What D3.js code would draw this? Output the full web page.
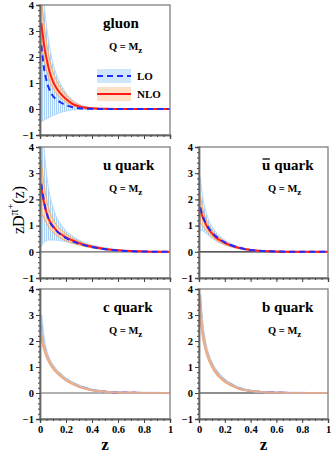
<!DOCTYPE html>
<html>
<head>
<meta charset="utf-8">
<script src="https://cdn.jsdelivr.net/npm/d3@7"></script>
<style>
  body { margin: 0; background: #fff; }
  text { font-family: "Liberation Serif", "Times New Roman", serif; }
</style>
</head>
<body>
<div id="chart"></div>
<script>
// z grid shared by all curves
const zGrid = [0.01, 0.02, 0.03, 0.05, 0.07, 0.1, 0.13, 0.16, 0.2, 0.25, 0.3, 0.35, 0.4, 0.5, 0.6, 0.7, 0.8, 0.9, 1.0];

// gluon
const gluonNLO   = [3.3, 2.9, 2.5, 1.95, 1.5, 1.05, 0.78, 0.58, 0.38, 0.2, 0.1, 0.05, 0.025, 0.008, 0.002, 0, 0, 0, 0];
const gluonNLOHi = [4.4, 3.85, 3.3, 2.55, 2.0, 1.42, 1.06, 0.8, 0.54, 0.3, 0.16, 0.085, 0.045, 0.014, 0.004, 0.001, 0, 0, 0];
const gluonNLOLo = [2.55, 2.25, 1.95, 1.5, 1.15, 0.8, 0.58, 0.42, 0.27, 0.13, 0.06, 0.028, 0.013, 0.004, 0.001, 0, 0, 0, 0];
const gluonLO    = [2.45, 2.0, 1.6, 1.1, 0.78, 0.5, 0.35, 0.25, 0.15, 0.07, 0.03, 0.012, 0.005, 0, 0, 0, 0, 0, 0];
const gluonLOHi  = [5, 4.6, 4.1, 3.2, 2.5, 1.75, 1.28, 0.95, 0.62, 0.35, 0.18, 0.09, 0.045, 0.01, 0.002, 0, 0, 0, 0];
const gluonLOLo  = [-0.5, -0.46, -0.43, -0.38, -0.33, -0.25, -0.19, -0.13, -0.08, -0.035, -0.012, -0.003, 0, 0, 0, 0, 0, 0, 0];

// u quark
const uNLO   = [2.45, 2.15, 1.9, 1.5, 1.22, 0.98, 0.8, 0.68, 0.55, 0.43, 0.33, 0.25, 0.19, 0.11, 0.06, 0.03, 0.012, 0.004, 0];
const uNLOHi = [3.5, 3.0, 2.6, 2.0, 1.6, 1.25, 1.0, 0.85, 0.68, 0.52, 0.4, 0.3, 0.23, 0.13, 0.07, 0.035, 0.015, 0.005, 0];
const uNLOLo = [1.4, 1.4, 1.3, 1.1, 0.92, 0.75, 0.62, 0.52, 0.42, 0.33, 0.26, 0.2, 0.15, 0.09, 0.05, 0.02, 0.01, 0.003, 0];
const uLO    = [2.6, 2.25, 1.95, 1.5, 1.2, 0.95, 0.78, 0.65, 0.52, 0.4, 0.31, 0.24, 0.18, 0.1, 0.05, 0.025, 0.01, 0.004, 0];
const uLOHi  = [5, 4.6, 4.0, 3.0, 2.3, 1.7, 1.3, 1.05, 0.8, 0.6, 0.45, 0.34, 0.26, 0.15, 0.08, 0.04, 0.018, 0.006, 0];
const uLOLo  = [0.2, 0.3, 0.37, 0.42, 0.45, 0.45, 0.44, 0.42, 0.38, 0.32, 0.26, 0.2, 0.15, 0.08, 0.04, 0.02, 0.008, 0.002, 0];

// u-bar quark
const ubNLO   = [1.65, 1.45, 1.3, 1.08, 0.9, 0.7, 0.55, 0.45, 0.34, 0.24, 0.16, 0.11, 0.07, 0.03, 0.012, 0.005, 0.002, 0, 0];
const ubNLOHi = [2.15, 1.85, 1.62, 1.3, 1.07, 0.83, 0.66, 0.53, 0.4, 0.28, 0.19, 0.13, 0.08, 0.035, 0.015, 0.006, 0.002, 0, 0];
const ubNLOLo = [1.1, 1.05, 0.98, 0.85, 0.73, 0.58, 0.46, 0.37, 0.28, 0.2, 0.13, 0.09, 0.06, 0.025, 0.01, 0.004, 0.001, 0, 0];
const ubLO    = [1.7, 1.5, 1.35, 1.12, 0.95, 0.74, 0.6, 0.48, 0.36, 0.25, 0.17, 0.11, 0.07, 0.03, 0.012, 0.005, 0.002, 0, 0];
const ubLOHi  = [2.85, 2.4, 2.05, 1.6, 1.28, 0.97, 0.76, 0.6, 0.45, 0.31, 0.21, 0.14, 0.09, 0.04, 0.016, 0.006, 0.002, 0, 0];
const ubLOLo  = [0.8, 0.82, 0.8, 0.72, 0.64, 0.52, 0.42, 0.34, 0.26, 0.18, 0.12, 0.08, 0.05, 0.02, 0.008, 0.003, 0.001, 0, 0];

// c quark
const cNLO   = [2.2, 1.95, 1.75, 1.45, 1.22, 0.97, 0.8, 0.66, 0.5, 0.36, 0.25, 0.17, 0.11, 0.05, 0.02, 0.008, 0.003, 0.001, 0];
const cNLOHi = [2.3, 2.05, 1.83, 1.51, 1.27, 1.01, 0.83, 0.69, 0.52, 0.38, 0.26, 0.18, 0.12, 0.055, 0.022, 0.009, 0.003, 0.001, 0];
const cNLOLo = [2.1, 1.86, 1.67, 1.39, 1.17, 0.93, 0.77, 0.63, 0.48, 0.34, 0.24, 0.16, 0.1, 0.045, 0.018, 0.007, 0.002, 0, 0];
const cLO    = [2.6, 2.2, 1.9, 1.5, 1.25, 1.0, 0.82, 0.68, 0.52, 0.38, 0.27, 0.19, 0.12, 0.05, 0.02, 0.008, 0.003, 0.001, 0];
const cLOHi  = [3.0, 2.45, 2.05, 1.58, 1.31, 1.05, 0.86, 0.72, 0.55, 0.4, 0.29, 0.2, 0.13, 0.055, 0.022, 0.009, 0.003, 0.001, 0];
const cLOLo  = [2.3, 2.0, 1.78, 1.43, 1.19, 0.95, 0.78, 0.64, 0.49, 0.36, 0.25, 0.18, 0.11, 0.045, 0.018, 0.007, 0.002, 0, 0];

// b quark
const bNLO   = [3.2, 2.6, 2.25, 1.75, 1.4, 1.05, 0.8, 0.62, 0.45, 0.3, 0.19, 0.12, 0.075, 0.03, 0.01, 0.004, 0.001, 0, 0];
const bNLOHi = [3.7, 2.9, 2.4, 1.83, 1.46, 1.1, 0.84, 0.65, 0.47, 0.32, 0.2, 0.13, 0.08, 0.033, 0.012, 0.005, 0.001, 0, 0];
const bNLOLo = [3.0, 2.45, 2.12, 1.67, 1.34, 1.0, 0.76, 0.59, 0.43, 0.28, 0.18, 0.11, 0.07, 0.027, 0.009, 0.003, 0.001, 0, 0];
const bLO    = [3.5, 2.8, 2.35, 1.8, 1.45, 1.1, 0.85, 0.67, 0.49, 0.33, 0.21, 0.13, 0.08, 0.03, 0.012, 0.004, 0.001, 0, 0];
const bLOHi  = [3.8, 3.0, 2.5, 1.9, 1.52, 1.15, 0.89, 0.7, 0.51, 0.35, 0.22, 0.14, 0.085, 0.033, 0.013, 0.005, 0.001, 0, 0];
const bLOLo  = [3.2, 2.6, 2.2, 1.7, 1.38, 1.05, 0.81, 0.64, 0.46, 0.31, 0.2, 0.12, 0.075, 0.027, 0.01, 0.003, 0.001, 0, 0];

const yTicks = [-1, 0, 1, 2, 3, 4];
const xTicks = [0, 0.2, 0.4, 0.6, 0.8, 1];
const xTickLabels = ["0", "0.2", "0.4", "0.6", "0.8", "1"];

const width = 332, height = 454;
const cols = [{ x0: 40, x1: 170 }, { x0: 199, x1: 328 }];
const rows = [{ top: 5, bottom: 135 }, { top: 147, bottom: 278 }, { top: 289, bottom: 419 }];
const serif = "'Liberation Serif', 'Times New Roman', serif";

// narrow bands (c, b) sit on top of their curves in the original
const panels = [
    { id: "g", name: "gluon", bar: false, col: 0, row: 0, legend: true, xLabels: false, bandsOnTop: false,
      nlo: gluonNLO, nloHi: gluonNLOHi, nloLo: gluonNLOLo, lo: gluonLO, loHi: gluonLOHi, loLo: gluonLOLo },
    { id: "u", name: "u quark", bar: false, col: 0, row: 1, legend: false, xLabels: false, bandsOnTop: false,
      nlo: uNLO, nloHi: uNLOHi, nloLo: uNLOLo, lo: uLO, loHi: uLOHi, loLo: uLOLo },
    { id: "ub", name: "u quark", bar: true, col: 1, row: 1, legend: false, xLabels: false, bandsOnTop: false,
      nlo: ubNLO, nloHi: ubNLOHi, nloLo: ubNLOLo, lo: ubLO, loHi: ubLOHi, loLo: ubLOLo },
    { id: "c", name: "c quark", bar: false, col: 0, row: 2, legend: false, xLabels: true, bandsOnTop: true,
      nlo: cNLO, nloHi: cNLOHi, nloLo: cNLOLo, lo: cLO, loHi: cLOHi, loLo: cLOLo },
    { id: "b", name: "b quark", bar: false, col: 1, row: 2, legend: false, xLabels: true, bandsOnTop: true,
      nlo: bNLO, nloHi: bNLOHi, nloLo: bNLOLo, lo: bLO, loHi: bLOHi, loLo: bLOLo }
];

const svg = d3.select("#chart")
    .append("svg")
    .attr("width", width)
    .attr("height", height);

const defs = svg.append("defs");

// vertical hatch fills, like the original
const blueHatch = defs.append("pattern")
    .attr("id", "blueHatch")
    .attr("patternUnits", "userSpaceOnUse")
    .attr("width", 2).attr("height", 4);
blueHatch.append("rect").attr("width", 2).attr("height", 4).attr("fill", "#eef6fe");
blueHatch.append("rect").attr("width", 1).attr("height", 4).attr("fill", "#a8cff4");

const orangeHatch = defs.append("pattern")
    .attr("id", "orangeHatch")
    .attr("patternUnits", "userSpaceOnUse")
    .attr("width", 2).attr("height", 4);
orangeHatch.append("rect").attr("width", 2).attr("height", 4).attr("fill", "#fde6d2");
orangeHatch.append("rect").attr("width", 1).attr("height", 4).attr("fill", "#f9cba2");

panels.forEach(p => {
    const c = cols[p.col], r = rows[p.row];
    const x = d3.scaleLinear().domain([0, 1]).range([c.x0, c.x1]);
    const y = d3.scaleLinear().domain([-1, 4]).range([r.bottom, r.top]);
    const g = svg.append("g");

    defs.append("clipPath").attr("id", "clip-" + p.id)
        .append("rect")
        .attr("x", c.x0).attr("y", r.top)
        .attr("width", c.x1 - c.x0).attr("height", r.bottom - r.top);

    const plot = g.append("g").attr("clip-path", `url(#clip-${p.id})`);

    const band = (hi, lo) => d3.area()
        .x((d, i) => x(zGrid[i]))
        .y0((d, i) => y(lo[i]))
        .y1((d, i) => y(hi[i]))
        .curve(d3.curveMonotoneX)(zGrid);
    const line = vals => d3.line()
        .x((d, i) => x(zGrid[i]))
        .y((d, i) => y(vals[i]))
        .curve(d3.curveMonotoneX)(zGrid);

    // zero line
    plot.append("line")
        .attr("x1", x(0)).attr("x2", x(1))
        .attr("y1", y(0)).attr("y2", y(0))
        .attr("stroke", p.col === 1 ? "#222" : "#666").attr("stroke-width", 1.2);

    const drawLines = () => {
        plot.append("path").attr("d", line(p.nlo))
            .attr("fill", "none").attr("stroke", "#ff1a1a").attr("stroke-width", 2);
        plot.append("path").attr("d", line(p.lo))
            .attr("fill", "none").attr("stroke", "#1e2cff").attr("stroke-width", 2)
            .attr("stroke-dasharray", "6,4");
    };
    const drawBands = () => {
        plot.append("path").attr("d", band(p.loHi, p.loLo))
            .attr("fill", p.bandsOnTop ? "#b6d6f5" : "url(#blueHatch)")
            .attr("fill-opacity", p.bandsOnTop ? 0.85 : 1)
            .attr("stroke", p.bandsOnTop ? "#a9cdf2" : "#b9dafa")
            .attr("stroke-width", p.bandsOnTop ? 2.2 : 1)
            .attr("stroke-opacity", p.bandsOnTop ? 0.8 : 1);
        plot.append("path").attr("d", band(p.nloHi, p.nloLo))
            .attr("fill", p.bandsOnTop ? "#f8b888" : "url(#orangeHatch)")
            .attr("fill-opacity", p.bandsOnTop ? 0.75 : 0.9)
            .attr("stroke", p.bandsOnTop ? "#f6ab74" : "#f7a968")
            .attr("stroke-width", p.bandsOnTop ? 1.8 : 1)
            .attr("stroke-opacity", p.bandsOnTop ? 0.7 : 1);
    };
    if (p.bandsOnTop) { drawLines(); drawBands(); }
    else { drawBands(); drawLines(); }

    // frame
    g.append("rect")
        .attr("x", c.x0).attr("y", r.top)
        .attr("width", c.x1 - c.x0).attr("height", r.bottom - r.top)
        .attr("fill", "none").attr("stroke", "#888").attr("stroke-width", 1.4);

    // y axis
    const yAxis = d3.axisLeft(y).tickValues(yTicks).tickSize(4).tickPadding(2).tickFormat(d3.format("d"));
    g.append("g").attr("transform", `translate(${c.x0},0)`).call(yAxis);
    const yMinor = d3.axisLeft(y).tickValues(d3.range(-1, 4.01, 0.2)).tickSize(2).tickFormat("");
    g.append("g").attr("transform", `translate(${c.x0},0)`).call(yMinor);

    // x axis
    const xAxis = d3.axisBottom(x).tickValues(xTicks).tickSize(4).tickPadding(3)
        .tickFormat((d, i) => p.xLabels ? xTickLabels[i] : "");
    g.append("g").attr("transform", `translate(0,${r.bottom})`).call(xAxis);
    const xMinor = d3.axisBottom(x).tickValues(d3.range(0, 1.001, 0.05)).tickSize(2).tickFormat("");
    g.append("g").attr("transform", `translate(0,${r.bottom})`).call(xMinor);

    g.selectAll(".domain").attr("stroke", "#666").attr("stroke-width", 1.4);
    g.selectAll(".tick line").attr("stroke", "#444");
    g.selectAll(".tick text")
        .attr("font-family", serif)
        .attr("font-weight", "bold")
        .attr("font-size", 10.5)
        .style("font-family", serif)
        .attr("fill", "#000");

    // titles
    const tx = c.x0 + 63;
    if (p.bar) {
        const u = g.append("text").attr("x", tx).attr("y", r.top + 23)
            .style("font-size", "15px").style("font-weight", "bold").text("u");
        const bb = u.node().getBBox();
        g.append("line")
            .attr("x1", bb.x + 0.5).attr("x2", bb.x + bb.width - 0.5)
            .attr("y1", bb.y + 2).attr("y2", bb.y + 2)
            .attr("stroke", "#000").attr("stroke-width", 1.3);
        g.append("text").attr("x", bb.x + bb.width + 4).attr("y", r.top + 23)
            .style("font-size", "15px").style("font-weight", "bold").text("quark");
    } else {
        g.append("text").attr("x", tx).attr("y", r.top + 23)
            .style("font-size", "15px").style("font-weight", "bold").text(p.name);
    }
    const q = g.append("text").attr("x", c.x0 + 69).attr("y", r.top + 45)
        .style("font-size", "10.5px").style("font-weight", "bold");
    q.append("tspan").text("Q = M");
    q.append("tspan").attr("dy", 3).style("font-size", "9px").text("z");

    // legend
    if (p.legend) {
        const items = [
            { label: "LO", fill: "#cfe5fa", stroke: "#1e2cff", dash: "6,4", y: 76 },
            { label: "NLO", fill: "#fde0c6", stroke: "#ff1a1a", dash: null, y: 94 }
        ];
        items.forEach(it => {
            g.append("rect").attr("x", c.x0 + 57).attr("y", it.y - 7)
                .attr("width", 34).attr("height", 14).attr("fill", it.fill);
            g.append("line").attr("x1", c.x0 + 57).attr("x2", c.x0 + 91)
                .attr("y1", it.y).attr("y2", it.y)
                .attr("stroke", it.stroke).attr("stroke-width", 2)
                .attr("stroke-dasharray", it.dash);
            g.append("text").attr("x", c.x0 + 97).attr("y", it.y + 4)
                .style("font-size", "11px").style("font-weight", "bold").text(it.label);
        });
    }

    // x axis title
    if (p.xLabels) {
        g.append("text").attr("x", (c.x0 + c.x1) / 2).attr("y", 450)
            .attr("text-anchor", "middle")
            .style("font-size", "17px").style("font-weight", "bold").text("z");
    }
});

// y axis title
const yl = svg.append("text")
    .attr("transform", "translate(24,210) rotate(-90)")
    .attr("text-anchor", "middle")
    .style("font-size", "16px");
yl.append("tspan").text("zD");
yl.append("tspan").attr("dy", -6).style("font-size", "12px").text("π");
yl.append("tspan").attr("dy", -4).style("font-size", "10px").text("+");
yl.append("tspan").attr("dy", 10).text("(z)");
</script>
</body>
</html>
